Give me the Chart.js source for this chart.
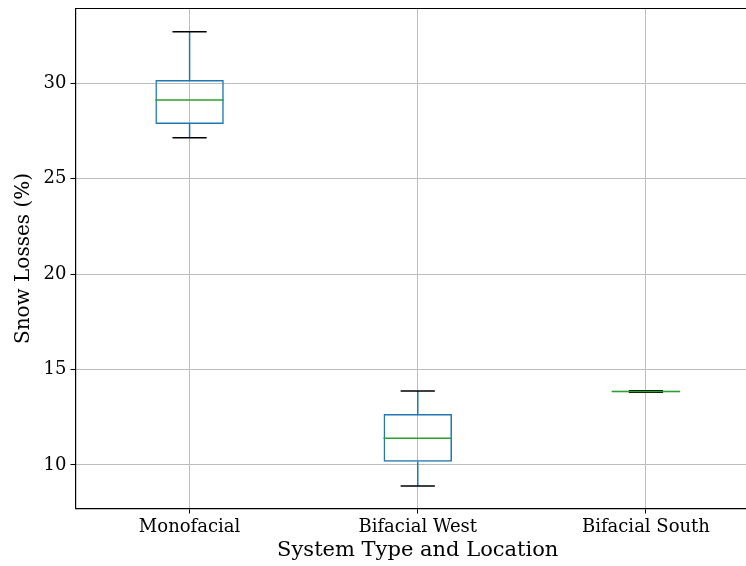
<!DOCTYPE html>
<html>
<head>
<meta charset="utf-8">
<script src="https://cdn.jsdelivr.net/npm/chart.js@4.4.0/dist/chart.umd.min.js"></script>
<style>
  html, body { margin: 0; padding: 0; background: #fff; overflow: hidden; }
  #wrap { width: 746px; height: 566px; overflow: hidden; }
</style>
</head>
<body>
<div id="wrap"><canvas id="boxChart" width="790" height="566"></canvas></div>
<script>
// categories and box plot stats
var categories = ["Monofacial", "Bifacial West", "Bifacial South"];
var whiskerLow = [27.15, 8.90, 13.81];
var q1 = [27.87, 10.17, 13.81];
var medians = [29.12, 11.40, 13.85];
var q3 = [30.17, 12.67, 13.89];
var whiskerHigh = [32.70, 13.88, 13.89];
var yTicks = [10, 15, 20, 25, 30];

var serif = "'DejaVu Serif', serif";

// whiskers, caps, medians and the top/right spines
var boxExtras = {
    id: "boxExtras",
    afterDatasetsDraw: function (chart) {
        var ctx = chart.ctx;
        var x = chart.scales.x;
        var y = chart.scales.y;
        var capHalf = x.width / categories.length * 0.3 / 4;
        var boxHalf = x.width / categories.length * 0.3 / 2;
        ctx.save();
        ctx.lineCap = "butt";
        for (var i = 0; i < categories.length; i++) {
            var cx = x.getPixelForValue(i);
            // whiskers
            ctx.strokeStyle = "#1f77b4";
            ctx.lineWidth = 1.5;
            ctx.beginPath();
            ctx.moveTo(cx, y.getPixelForValue(q3[i]));
            ctx.lineTo(cx, y.getPixelForValue(whiskerHigh[i]));
            ctx.moveTo(cx, y.getPixelForValue(q1[i]));
            ctx.lineTo(cx, y.getPixelForValue(whiskerLow[i]));
            ctx.stroke();
            // caps
            ctx.strokeStyle = "#000";
            ctx.beginPath();
            [whiskerHigh[i], whiskerLow[i]].forEach(function (v) {
                var py = y.getPixelForValue(v);
                ctx.moveTo(cx - capHalf, py);
                ctx.lineTo(cx + capHalf, py);
            });
            ctx.stroke();
            // median
            ctx.strokeStyle = "#2ca02c";
            ctx.beginPath();
            var my = y.getPixelForValue(medians[i]);
            ctx.moveTo(cx - boxHalf, my);
            ctx.lineTo(cx + boxHalf, my);
            ctx.stroke();
        }
        var a = chart.chartArea;
        ctx.strokeStyle = "#000";
        ctx.lineWidth = 1.2;
        ctx.beginPath();
        ctx.moveTo(a.left, a.top);
        ctx.lineTo(a.right, a.top);
        ctx.lineTo(a.right, a.bottom);
        ctx.stroke();
        ctx.restore();
    }
};

var ctx = document.getElementById("boxChart").getContext("2d");

var myChart = new Chart(ctx, {
    type: "bar",
    data: {
        labels: categories,
        datasets: [
            {
                label: "IQR",
                data: q1.map(function (v, i) { return [v, q3[i]]; }),
                backgroundColor: "rgba(0,0,0,0)",
                borderColor: "#1f77b4",
                borderWidth: 1.5,
                borderSkipped: false,
                barPercentage: 0.3,
                categoryPercentage: 1.0
            }
        ]
    },
    options: {
        responsive: false,
        animation: false,
        layout: { padding: { top: 8.5, right: 30, left: 0, bottom: 0 } },
        plugins: {
            legend: { display: false },
            tooltip: { enabled: false }
        },
        scales: {
            x: {
                offset: true,
                grid: { color: "#bdbdbd", lineWidth: 1, tickColor: "#000", tickLength: 5, offset: false },
                border: { color: "#000", width: 1.2 },
                ticks: { color: "#000", font: { family: serif, size: 18 }, padding: 3, maxRotation: 0 },
                title: {
                    display: true,
                    text: "System Type and Location",
                    color: "#000",
                    font: { family: serif, size: 21 },
                    padding: { top: 0, bottom: 2.5 }
                },
                afterFit: function (axis) {
                    axis.height = 57.5;
                    axis.paddingLeft = 0;
                    axis.paddingRight = 0;
                }
            },
            y: {
                min: 7.72,
                max: 33.92,
                grid: { color: "#bdbdbd", lineWidth: 1, tickColor: "#000", tickLength: 5 },
                border: { color: "#000", width: 1.2 },
                ticks: { color: "#000", font: { family: serif, size: 18 }, padding: 4 },
                afterBuildTicks: function (axis) {
                    axis.ticks = yTicks.map(function (v) { return { value: v }; });
                },
                title: {
                    display: true,
                    text: "Snow Losses (%)",
                    color: "#000",
                    font: { family: serif, size: 20 },
                    padding: { top: 12, bottom: 0 }
                },
                afterFit: function (axis) {
                    axis.width = 75.5;
                    axis.paddingTop = 0;
                    axis.paddingBottom = 0;
                }
            }
        }
    },
    plugins: [boxExtras]
});
</script>
</body>
</html>
